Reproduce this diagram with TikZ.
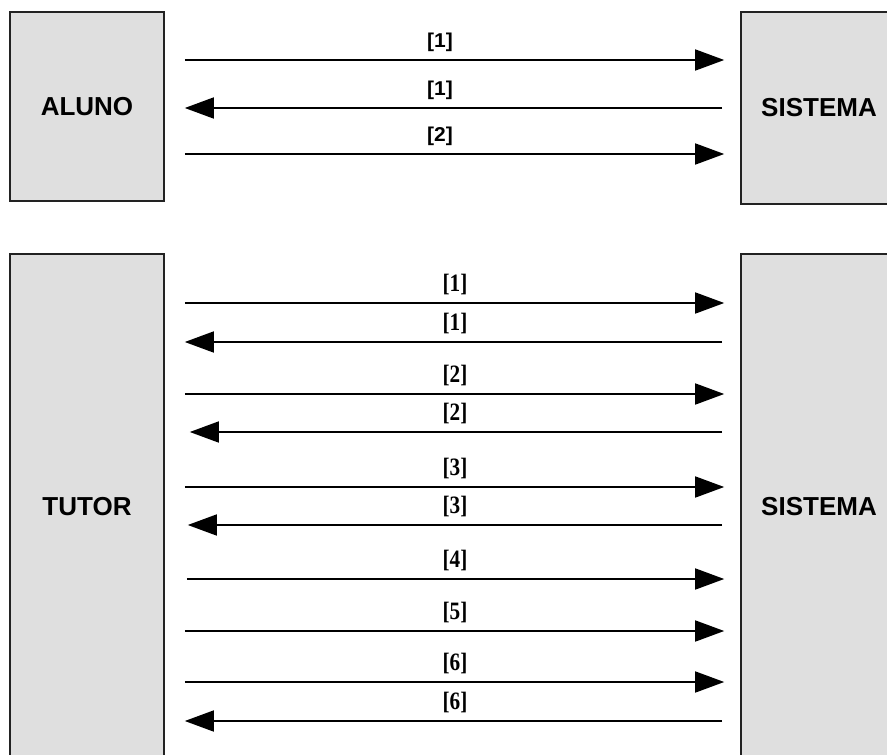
\documentclass[tikz,border=0pt]{standalone}
\usepackage{fontspec}
\setmainfont{Liberation Serif}
\newfontfamily\boxfont{Liberation Sans}
\usetikzlibrary{arrows.meta,calc}
\definecolor{boxgray}{HTML}{DFDFDF}
\definecolor{edgegray}{HTML}{222222}
\newcommand{\toptxt}[1]{\scalebox{1.05}[1]{\boxfont\bfseries\fontsize{20}{20}\selectfont[#1]}}
\newcommand{\bottxt}[1]{\scalebox{0.85}[1]{\bfseries\fontsize{25}{25}\selectfont[#1]}}
\tikzset{
  actor/.style={draw=edgegray, line width=1.6pt, fill=boxgray, rectangle, inner sep=0pt,
    font=\boxfont\bfseries\fontsize{26}{26}\selectfont},
  msg/.style={draw=black, line width=1.6pt},
  fwd/.style={msg, -{Triangle[length=29pt,width=21pt,fill=black]}},
  bwd/.style={msg, -{Triangle[length=29pt,width=21pt,fill=black]}},
  lbl/.style={inner sep=0pt},
}
\begin{document}
\begin{tikzpicture}[x=1pt, y=-1pt]
\useasboundingbox (0,0) rectangle (887,755);
\clip (0,0) rectangle (887,755);
\fill[white] (0,0) rectangle (887,755);

% boxes
\node[actor, minimum width=154pt, minimum height=189pt] (aluno) at (87,106.3) {ALUNO};
\node[actor, minimum width=156pt, minimum height=192pt] (sis1) at (819,108) {SISTEMA};
\node[actor, minimum width=154pt, minimum height=506pt] (tutor) at (87,507) {TUTOR};
\node[actor, minimum width=156pt, minimum height=506pt] (sis2) at (819,507) {SISTEMA};

% top group
\foreach \yy/\dir/\txt in {60/r/1, 108/l/1, 154/r/2}{
  \if r\dir
    \draw[fwd, shorten <=20pt, shorten >=16pt] (aluno.east |- 0,\yy) -- (sis1.west |- 0,\yy);
  \else
    \draw[bwd, shorten <=18pt, shorten >=20pt] (sis1.west |- 0,\yy) -- (aluno.east |- 0,\yy);
  \fi
  \node[lbl] (t\yy) at (440,\yy-18) {\toptxt{\txt}};
}

% bottom group
\foreach \yy/\dir/\txt/\sa/\sb in {303/r/1/20/16, 342/l/1/18/20, 394/r/2/20/16, 432/l/2/18/25,
    487/r/3/20/16, 525/l/3/18/23, 579/r/4/22/16, 631/r/5/20/16, 682/r/6/20/16, 721/l/6/18/20}{
  \if r\dir
    \draw[fwd, shorten <=\sa pt, shorten >=\sb pt] (tutor.east |- 0,\yy) -- (sis2.west |- 0,\yy);
  \else
    \draw[bwd, shorten <=\sa pt, shorten >=\sb pt] (sis2.west |- 0,\yy) -- (tutor.east |- 0,\yy);
  \fi
  \node[lbl] (b\yy) at (455,\yy-18.5) {\bottxt{\txt}};
}
\end{tikzpicture}
\end{document}
